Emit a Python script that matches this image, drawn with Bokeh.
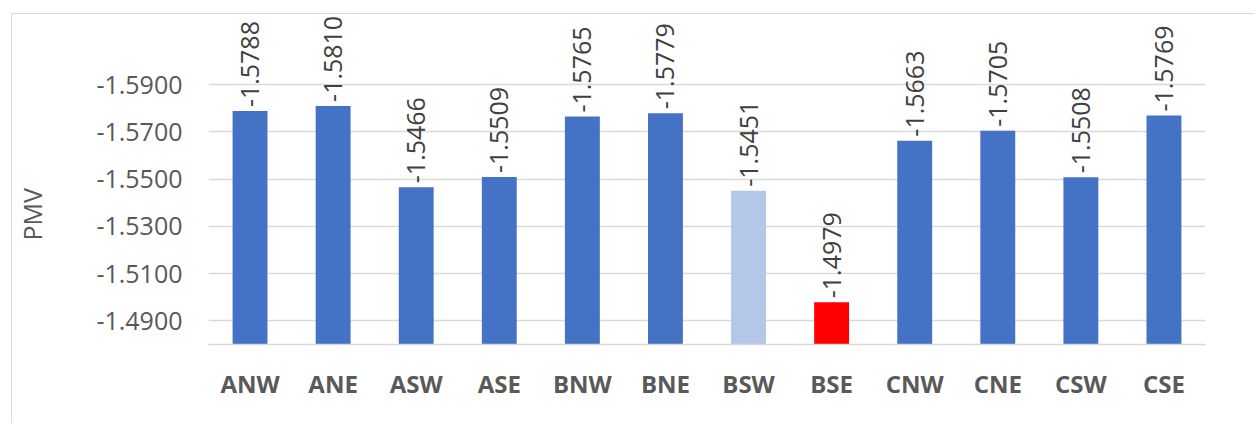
from bokeh.plotting import figure
from bokeh.models import ColumnDataSource, Range1d, FixedTicker, NumeralTickFormatter, LabelSet, Title
from bokeh.core.properties import value
from bokeh.embed import file_html
from bokeh.resources import INLINE

categories = ["ANW", "ANE", "ASW", "ASE", "BNW", "BNE", "BSW", "BSE", "CNW", "CNE", "CSW", "CSE"]
pmv = [-1.5788, -1.5810, -1.5466, -1.5509, -1.5765, -1.5779, -1.5451, -1.4979, -1.5663, -1.5705, -1.5508, -1.5769]
colors = ["#4472C4"] * 6 + ["#B4C7E7", "#FF0000"] + ["#4472C4"] * 4
labels = ["%.4f" % v for v in pmv]
y_ticks = [-1.49, -1.51, -1.53, -1.55, -1.57, -1.59]
y_base = -1.48
y_end = -1.6197  # extends above the -1.60 axis max so the value labels have room

src = ColumnDataSource(dict(cat=categories, val=pmv, col=colors, lab=labels, base=[y_base] * len(pmv)))

FONT = "Open Sans"

p = figure(x_range=categories, y_range=Range1d(start=y_base, end=y_end),
           width=1284, height=423, output_backend="svg", toolbar_location=None,
           min_border_left=238, min_border_right=49, min_border_top=14, min_border_bottom=79)
# chart-area border (left and top light-grey lines) drawn as inset shadows
p.styles = {"transform": "translate(-30px, 0px)",
            "box-shadow": "inset 41px 13px 0 0 #FFFFFF, inset 42px 14px 0 0 #D9D9D9"}
p.outline_line_color = None
p.background_fill_color = "white"
p.border_fill_color = None

p.vbar(x="cat", top="val", bottom="base", width=0.42, fill_color="col", line_color=None, source=src)

lbl = LabelSet(x="cat", y="val", text="lab", source=src, angle=1.5707963, text_align="left",
               text_baseline="middle", y_offset=4, text_font=value(FONT), text_font_size="25px",
               text_color="#404040")
p.add_layout(lbl)

# y axis
p.yaxis.ticker = FixedTicker(ticks=y_ticks)
p.yaxis.formatter = NumeralTickFormatter(format="0.0000")
p.yaxis.axis_line_color = None
p.yaxis.major_tick_line_color = None
p.yaxis.minor_tick_line_color = None
p.yaxis.major_tick_out = 0
p.yaxis.major_label_standoff = 26
p.yaxis.major_label_text_font = FONT
p.yaxis.major_label_text_font_size = "25px"
p.yaxis.major_label_text_color = "#595959"

ytitle = Title(text="PMV", align="left", offset=104, vertical_align="top", standoff=86,
               text_font=FONT, text_font_size="25px", text_font_style="normal", text_color="#595959")
p.add_layout(ytitle, "left")

# x axis
p.xaxis.axis_line_color = "#D9D9D9"
p.xaxis.axis_line_width = 1.5
p.xaxis.major_tick_line_color = None
p.xaxis.minor_tick_line_color = None
p.xaxis.major_tick_out = 0
p.xaxis.major_label_standoff = 22
p.xaxis.major_label_text_font = FONT
p.xaxis.major_label_text_font_size = "24px"
p.xaxis.major_label_text_font_style = "bold"
p.xaxis.major_label_text_color = "#595959"

p.xgrid.grid_line_color = None
p.ygrid.grid_line_color = "#D9D9D9"
p.ygrid.grid_line_width = 1.5

open("out.html", "w").write(file_html(p, INLINE))
